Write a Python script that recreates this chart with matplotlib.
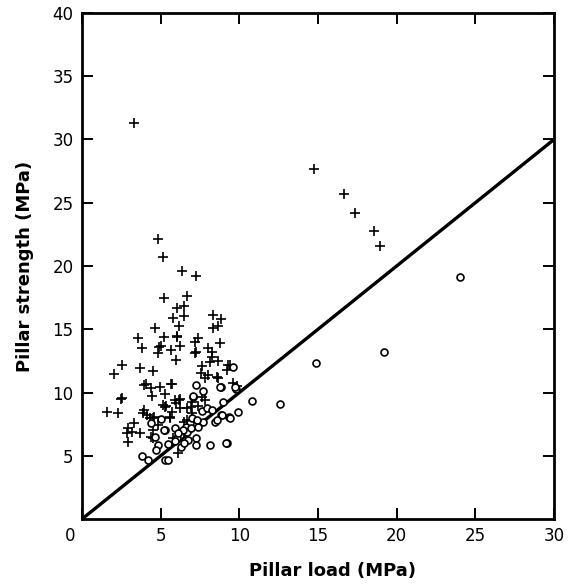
import matplotlib
matplotlib.use("Agg")
import matplotlib.pyplot as plt
import matplotlib.transforms as mtransforms

# --- data (MPa) ---
plus_load = [
    3.3, 4.83, 5.15, 6.36, 7.25, 14.75, 16.66, 17.36, 18.56, 18.94,
    6.65, 5.21, 6.5, 6.02, 6.5, 5.76, 6.17, 8.31, 8.82, 8.67, 8.31,
    4.64, 3.54, 5.23, 3.79, 5.02, 4.81, 5.66, 2.52, 2.05, 3.69, 4.53,
    3.94, 4.05, 4.39, 4.96, 5.66, 5.72, 4.47, 5.28, 2.56, 2.45,
    6.02, 7.39, 6.23, 7.18, 8.77, 7.25, 7.15, 8.03, 8.24, 8.24, 5.98,
    7.61, 8.14, 8.67, 9.28, 9.4, 7.55, 8.03, 7.82, 8.67, 9.62,
    5.26, 5.35, 1.57, 2.31, 3.96, 4.11, 4.51, 4.6, 4.85, 5.59, 3.32,
    2.94, 3.2, 2.84, 3.69, 2.94, 4.39, 4.5, 4.53, 5.91, 6.17, 6.25,
    6.97, 6.91, 5.7, 5.98, 6.97, 7.04, 5.8, 6.12, 6.5, 6.65,
    7.4, 7.6, 7.8, 3.9, 4.3, 5.6, 6.2, 6.65, 8.56, 9.2, 9.83, 5.13,
    4.9, 6.06,
]
plus_strength = [
    31.3, 22.1, 20.7, 19.6, 19.2, 27.7, 25.7, 24.2, 22.8, 21.6,
    17.65, 17.5, 16.86, 16.65, 16.05, 15.86, 15.28, 16.13, 15.8, 15.28, 15.07,
    15.12, 14.33, 14.41, 13.5, 13.7, 13.1, 13.36, 12.17, 11.44, 11.96, 11.7,
    10.6, 10.65, 10.38, 10.46, 10.65, 10.7, 9.75, 9.86, 9.54, 9.45,
    14.41, 14.33, 13.7, 13.97, 13.89, 13.23, 13.15, 13.54, 13.17, 12.83, 12.57,
    12.12, 12.38, 12.49, 12.17, 12.2, 11.52, 11.38, 11.12, 11.17, 10.73,
    8.85, 8.95, 8.48, 8.35, 8.62, 8.22, 7.96, 8.05, 7.43, 7.96, 7.57,
    7.17, 6.9, 6.77, 6.77, 6.11, 6.48, 6.4, 7.04, 9.4, 9.4, 9.5,
    9.25, 8.88, 8.48, 9.15, 8.35, 7.83, 6.38, 5.2, 7.7, 7.8,
    8.9, 9.67, 9.4, 8.35, 8.0, 8.1, 8.75, 8.75, 11.2, 11.8, 10.5, 9.0,
    13.6, 14.46,
]

circle_load = [
    9.62, 7.25, 8.84, 7.71, 7.08, 9.77, 10.79, 9.94, 9.37, 8.84, 8.46,
    7.61, 7.93, 8.24, 8.88, 8.99, 8.56, 9.41, 7.69, 7.39, 6.87, 6.6,
    6.7, 6.23, 6.02, 6.76, 7.25, 7.25, 8.14, 9.2, 6.27, 5.9, 8.77,
    9.73, 7.04, 5.28, 4.81, 5.49, 3.79, 4.22, 5.26, 5.49, 9.15, 12.6,
    14.88, 19.2, 24.0, 4.7, 4.64, 4.4, 5.0, 5.2, 6.4, 6.9, 7.0, 7.3,
    6.5, 5.9, 6.1,
]
circle_strength = [
    11.98, 10.59, 10.4, 10.14, 9.67, 10.3, 9.33, 8.48, 8.08, 8.2, 7.69,
    8.54, 8.8, 8.62, 8.22, 9.22, 7.83, 8.0, 7.69, 7.3, 7.57, 7.3,
    6.9, 6.64, 6.38, 6.24, 6.38, 5.85, 5.85, 5.98, 5.71, 7.2, 10.46,
    10.46, 9.75, 7.04, 5.85, 5.9, 5.0, 4.66, 4.66, 4.66, 6.03, 9.1,
    12.3, 13.2, 19.1, 5.45, 6.5, 7.6, 7.9, 7.0, 7.0, 7.2, 8.0, 7.8,
    6.0, 6.2, 6.8,
]

# equality line: strength = load
line_x = [0, 30]
line_y = [0, 30]

x_ticks = [0, 5, 10, 15, 20, 25, 30]
y_ticks = [5, 10, 15, 20, 25, 30, 35, 40]

fig = plt.figure(figsize=(5.72, 5.85), dpi=100)
ax = fig.add_axes([0.1434, 0.1128, 0.8251, 0.865])

ax.plot(line_x, line_y, color="black", linewidth=2.4, solid_capstyle="butt",
        zorder=2)
ax.plot(plus_load, plus_strength, linestyle="none", marker="+",
        markersize=7, markeredgewidth=1.2, color="black", zorder=3)
ax.plot(circle_load, circle_strength, linestyle="none", marker="o",
        markersize=5, markeredgewidth=1.2, markerfacecolor="white",
        markeredgecolor="black", zorder=3)

ax.set_xlim(0, 30)
ax.set_ylim(0, 40)
ax.set_xticks(x_ticks)
ax.set_yticks(y_ticks)
ax.tick_params(direction="in", top=True, right=True, length=8, width=1.4,
               labelsize=12, pad=6)
for sp in ax.spines.values():
    sp.set_linewidth(2.0)

# the corner "0" sits left of the y axis in the reference
off = mtransforms.ScaledTranslation(-12 / 100, 0, fig.dpi_scale_trans)
first = ax.get_xticklabels()[0]
first.set_transform(first.get_transform() + off)

ax.set_xlabel("Pillar load (MPa)", fontsize=13, fontweight="bold", labelpad=10)
ax.set_ylabel("Pillar strength (MPa)", fontsize=13, fontweight="bold",
              labelpad=8)
ax.xaxis.set_label_coords(0.53, -0.085)
ax.yaxis.set_label_coords(-0.102, 0.5)

fig.savefig("out.png", dpi=100)
